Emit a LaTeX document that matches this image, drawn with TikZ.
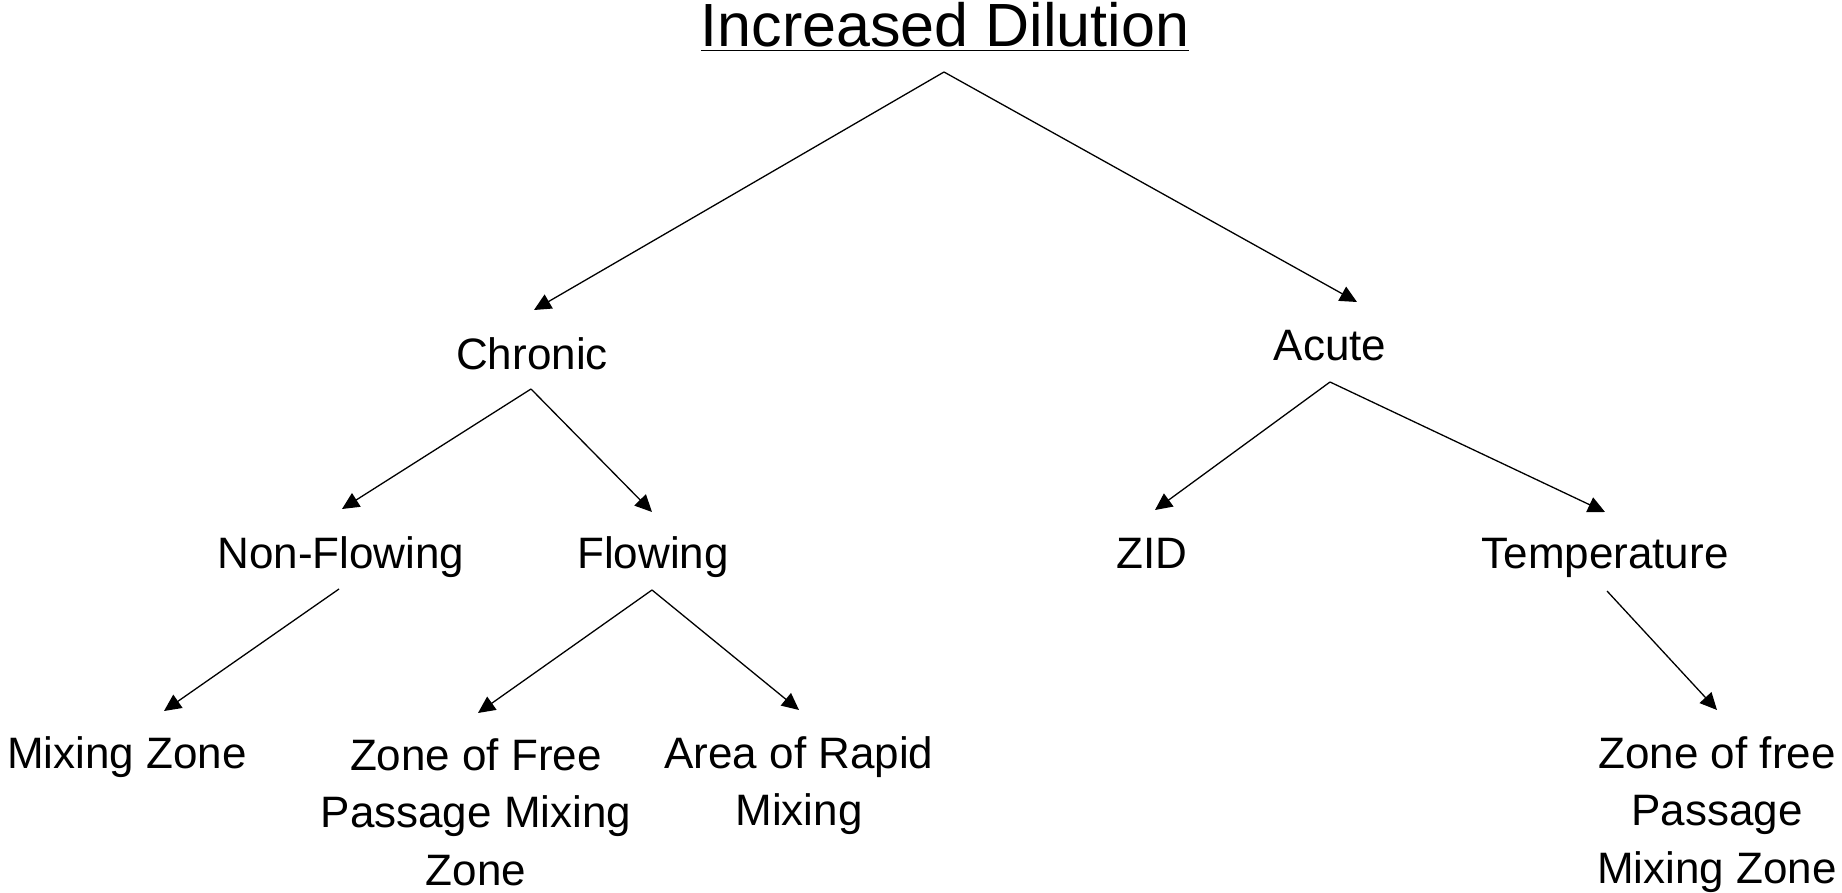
\documentclass[tikz,border=0pt]{standalone}
\usepackage{fontspec}
\setmainfont{Liberation Sans}
\usetikzlibrary{arrows.meta}
\begin{document}
\begin{tikzpicture}[x=0.5pt,y=-0.5pt,
  lbl/.style={inner sep=0pt, anchor=base, font=\fontsize{22}{28.75}\selectfont},
  ttl/.style={inner sep=0pt, anchor=base, font=\fontsize{30.5}{36}\selectfont},
  arr/.style={line width=0.65pt, -{Triangle[length=8.5pt,width=8pt]}}]
\useasboundingbox (0,0) rectangle (1842,893);
% texts
\node[ttl] (title) at (945,47) {\underline{Increased Dilution}};
\node[lbl] (chronic) at (532,369) {Chronic};
\node[lbl] (acute) at (1330,360) {Acute};
\node[lbl] (nonflow) at (341,568) {Non-Flowing};
\node[lbl] (flow) at (653,568) {Flowing};
\node[lbl] (zid) at (1152,568) {ZID};
\node[lbl] (temp) at (1605,568) {Temperature};
\node[lbl] (mixzone) at (127,768) {Mixing Zone};
\node[lbl] (zfree) at (476,770) {\begin{tabular}[t]{@{}c@{}}Zone of Free\\Passage Mixing\\Zone\end{tabular}};
\node[lbl] (rapid) at (799,768) {\begin{tabular}[t]{@{}c@{}}Area of Rapid\\Mixing\end{tabular}};
\node[lbl] (zfree2) at (1717,768) {\begin{tabular}[t]{@{}c@{}}Zone of free\\Passage\\Mixing Zone\end{tabular}};
% connector points
\coordinate (apex) at (944,72);
\coordinate (chronic-in) at (534,310);
\coordinate (acute-in) at (1357,302);
\coordinate (chronic-out) at (531,389);
\coordinate (nonflow-in) at (342,509);
\coordinate (flow-in) at (652,512);
\coordinate (acute-out) at (1330,382);
\coordinate (zid-in) at (1155,510);
\coordinate (temp-in) at (1605,512);
\coordinate (nonflow-out) at (339,589);
\coordinate (mixzone-in) at (164,711);
\coordinate (flow-out) at (652,590);
\coordinate (zfree-in) at (478,713);
\coordinate (rapid-in) at (799,710);
\coordinate (temp-out) at (1607,591);
\coordinate (zfree2-in) at (1717,710);
% connectors
\draw[arr] (apex) -- (chronic-in);
\draw[arr] (apex) -- (acute-in);
\draw[arr] (chronic-out) -- (nonflow-in);
\draw[arr] (chronic-out) -- (flow-in);
\draw[arr] (acute-out) -- (zid-in);
\draw[arr] (acute-out) -- (temp-in);
\draw[arr] (nonflow-out) -- (mixzone-in);
\draw[arr] (flow-out) -- (zfree-in);
\draw[arr] (flow-out) -- (rapid-in);
\draw[arr] (temp-out) -- (zfree2-in);
\end{tikzpicture}
\end{document}
